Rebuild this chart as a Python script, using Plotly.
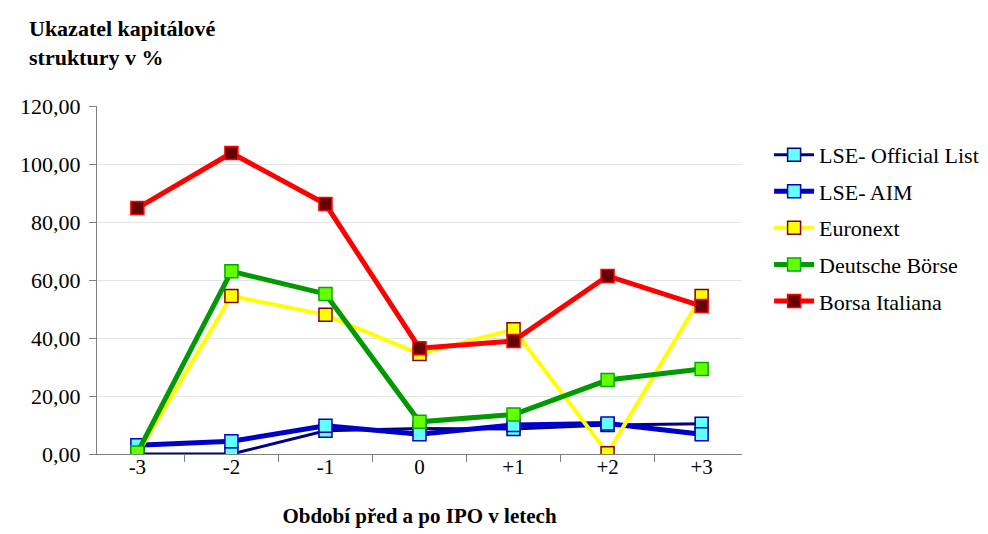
import plotly.graph_objects as go

# kategorie a hodnoty
obdobi = ["-3", "-2", "-1", "0", "+1", "+2", "+3"]
lse_official = [0.0, 0.0, 8.0, 8.8, 8.6, 10.0, 10.4]
lse_aim = [3.0, 4.4, 9.7, 6.8, 10.0, 10.5, 6.8]
euronext = [0.0, 54.5, 48.0, 34.5, 43.0, 0.3, 54.5]
deutsche = [0.5, 63.0, 55.2, 11.1, 13.6, 25.5, 29.3]
borsa = [84.8, 103.8, 86.2, 36.5, 39.0, 61.4, 51.0]

y_ticks = [0, 20, 40, 60, 80, 100, 120]
y_ticktext = ["0,00", "20,00", "40,00", "60,00", "80,00", "100,00", "120,00"]

serif = "Liberation Serif, Times New Roman, serif"

serie = [
    ("LSE- Official List", lse_official, "#000080", 3, "#66FFFF", "#000080"),
    ("LSE- AIM", lse_aim, "#0000C8", 5, "#66FFFF", "#0000C8"),
    ("Euronext", euronext, "#FFFF00", 4, "#FFFF00", "#800000"),
    ("Deutsche Börse", deutsche, "#009900", 5, "#66FF00", "#00AA00"),
    ("Borsa Italiana", borsa, "#FF0000", 5, "#660000", "#FF0000"),
]

fig = go.Figure()
for nazev, hodnoty, barva, sirka, vypln, okraj in serie:
    fig.add_trace(go.Scatter(
        x=obdobi,
        y=hodnoty,
        mode="lines+markers",
        name=nazev,
        legendgroup=nazev,
        line=dict(color=barva, width=sirka),
        marker=dict(symbol="square", size=13, color=vypln,
                    line=dict(color=okraj, width=1.5)),
    ))

fig.update_layout(
    width=988,
    height=534,
    margin=dict(l=74, r=246, t=98, b=88),
    plot_bgcolor="white",
    paper_bgcolor="white",
    font=dict(family=serif, size=22, color="black"),
    showlegend=True,
    legend=dict(
        x=1.042, y=0.92, xanchor="left", yanchor="top",
        font=dict(family=serif, size=22),
        tracegroupgap=5,
        itemwidth=40,
        traceorder="grouped",
    ),
    xaxis=dict(
        type="category",
        showgrid=False,
        showline=True,
        linecolor="#808080",
        linewidth=1,
        ticks="outside",
        tickson="boundaries",
        ticklen=7,
        tickcolor="#808080",
        tickfont=dict(size=21),
        ticklabelstandoff=-6,
        title=dict(text="<b>Období před a po IPO v letech</b>",
                   font=dict(size=21), standoff=30),
    ),
    yaxis=dict(
        range=[0, 120],
        tickvals=y_ticks,
        ticktext=y_ticktext,
        showgrid=True,
        gridcolor="#E0E6E6",
        showline=True,
        linecolor="#808080",
        linewidth=1,
        ticks="outside",
        ticklen=7,
        tickcolor="#808080",
        zeroline=False,
        tickfont=dict(size=22),
        ticklabelstandoff=4,
    ),
    annotations=[dict(
        text="<b>Ukazatel kapitálové<br>struktury v %</b>",
        xref="paper", yref="paper",
        x=-0.108, y=1.264, xanchor="left", yanchor="top",
        showarrow=False, align="left",
        font=dict(family=serif, size=22),
    )],
)

fig.write_html("out.html")
